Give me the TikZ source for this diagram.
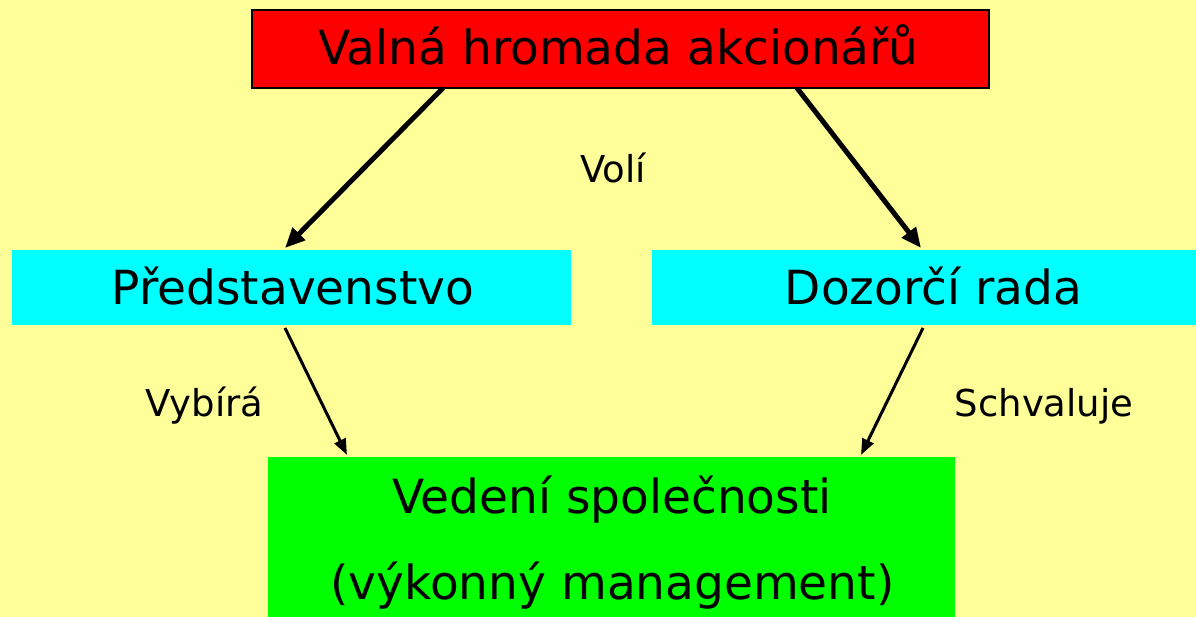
\documentclass[tikz,border=0pt]{standalone}
\usepackage{fontspec}
\setmainfont{DejaVu Sans}
\usetikzlibrary{arrows.meta}
\definecolor{bgyel}{RGB}{255,255,153}
\definecolor{boxred}{RGB}{255,0,0}
\definecolor{boxcyan}{RGB}{0,255,255}
\definecolor{boxgreen}{RGB}{0,255,0}
\tikzset{
  x=1pt,y=1pt,
  box/.style={rectangle, inner sep=0pt, outer sep=0pt, anchor=south west},
  bigtxt/.style={font=\fontsize{47}{56}\selectfont, anchor=base, inner sep=0pt},
  smalltxt/.style={font=\fontsize{37}{44}\selectfont, anchor=base, inner sep=0pt},
  thickarrow/.style={line width=5pt, -{Triangle[length=20pt,width=17pt]}},
  thinarrow/.style={line width=3pt, -{Triangle[length=16pt,width=12pt]}},
}
\begin{document}
\begin{tikzpicture}
\fill[bgyel] (0,0) rectangle (1196,617);
\useasboundingbox (0,0) rectangle (1196,617);
\node[box, fill=boxred, draw=black, line width=2pt, minimum width=737pt, minimum height=78pt] (vh) at (252,529) {};
\node[box, fill=boxcyan, minimum width=559pt, minimum height=75pt] (pr) at (12,292) {};
\node[box, fill=boxcyan, minimum width=544pt, minimum height=75pt] (dr) at (652,292) {};
\node[box, fill=boxgreen, minimum width=687pt, minimum height=160pt] (vs) at (268,0) {};
\node[bigtxt] (vht) at (618.5,552) {Valná hromada akcionářů};
\node[bigtxt] (prt) at (293,312) {Představenstvo};
\node[bigtxt] (drt) at (933.5,312) {Dozorčí rada};
\node[bigtxt] (vst1) at (612,103.5) {Vedení společnosti};
\node[bigtxt] (vst2) at (612.5,17) {(výkonný management)};
\node[smalltxt] (voli) at (613,434) {Volí};
\node[smalltxt] (vyb) at (204.5,200) {Vybírá};
\node[smalltxt] (sch) at (1044,200) {Schvaluje};
\draw[thickarrow] ([xshift=191pt]vh.south west) -- ([xshift=273pt,yshift=2pt]pr.north west);
\draw[thickarrow] ([xshift=545pt]vh.south west) -- ([xshift=269pt,yshift=2pt]dr.north west);
\draw[thinarrow] ([xshift=273pt,yshift=-3pt]pr.south west) -- ([xshift=79pt,yshift=2pt]vs.north west);
\draw[thinarrow] ([xshift=271pt,yshift=-3pt]dr.south west) -- ([xshift=593pt,yshift=2pt]vs.north west);
\end{tikzpicture}
\end{document}
